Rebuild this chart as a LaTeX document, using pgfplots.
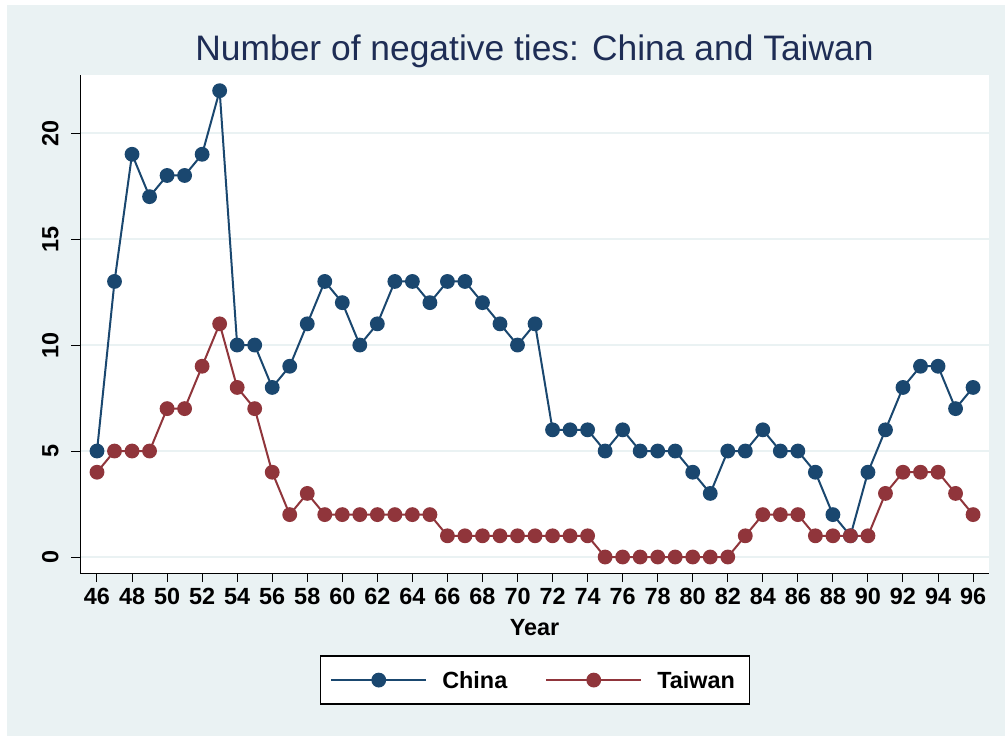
\documentclass[border=0pt]{standalone}
\usepackage{fontspec}
\setmainfont{Liberation Sans}
\usepackage{pgfplots}
\pgfplotsset{compat=1.18}
\definecolor{bgc}{HTML}{EAF2F3}
\definecolor{cnavy}{HTML}{1A476F}
\definecolor{tmaroon}{HTML}{90353B}
\definecolor{ttl}{HTML}{1E2D55}
\begin{document}
\begin{tikzpicture}[x=1pt,y=1pt]
\fill[white] (0,0) rectangle (502.5,368);
\fill[bgc] (3.5,0) rectangle (502.5,365.5);
\node[font=\fontsize{17.7}{20}\selectfont, text=ttl, anchor=base, inner sep=0pt] at (267.25,338) {Number of negative ties: China and Taiwan};
\begin{axis}[
  at={(40pt,81.5pt)}, anchor=south west,
  scale only axis, width=454.5pt, height=249pt,
  xmin=45.03, xmax=96.91, ymin=-0.755, ymax=22.74,
  axis lines*=left,
  axis line style={black, line width=0.5pt},
  axis background/.style={fill=white},
  xtick={46,48,...,96}, ytick={0,5,...,20},
  tick align=outside, major tick length=4.5pt,
  tick style={black, line width=0.5pt},
  ymajorgrids, grid style={bgc, line width=1pt},
  /pgf/number format/assume math mode=true,
  ticklabel style={font=\fontsize{11.7}{14}\selectfont\bfseries, inner sep=0pt},
  xticklabel style={anchor=north, yshift=-3pt},
  yticklabel style={rotate=90, anchor=south, yshift=6pt},
  xlabel={Year},
  xlabel style={font=\fontsize{11.7}{14}\selectfont\bfseries, at={(axis description cs:0.5,0)}, anchor=base, yshift=-31pt, inner sep=0pt},
  legend columns=2,
  legend style={at={(axis description cs:0.5006,-0.215)}, anchor=center,
    draw=black, line width=0.6pt, fill=white,
    inner xsep=0pt, inner ysep=7.8pt,
    font=\fontsize{11.7}{14}\selectfont\bfseries,
    nodes={inner sep=0pt, text height=8.4pt, text depth=0pt},
    column sep=0pt},
  legend image code/.code={%
    \path[draw=none, fill=none] (0pt,0pt) -- (61pt,0pt);
    \draw[mark repeat=2,mark phase=2,#1] plot coordinates {(5.5pt,0pt) (29.25pt,0pt) (53pt,0pt)};},
]
\addplot[cnavy, line width=1pt, mark=*, mark size=3.2pt, mark options={solid, fill=cnavy, draw=cnavy}] coordinates {
(46,5) (47,13) (48,19) (49,17) (50,18) (51,18) (52,19) (53,22) (54,10) (55,10)
(56,8) (57,9) (58,11) (59,13) (60,12) (61,10) (62,11) (63,13) (64,13) (65,12)
(66,13) (67,13) (68,12) (69,11) (70,10) (71,11) (72,6) (73,6) (74,6) (75,5)
(76,6) (77,5) (78,5) (79,5) (80,4) (81,3) (82,5) (83,5) (84,6) (85,5)
(86,5) (87,4) (88,2) (89,1) (90,4) (91,6) (92,8) (93,9) (94,9) (95,7) (96,8)};
\addlegendentry{China\hspace*{14pt}}
\addplot[tmaroon, line width=1pt, mark=*, mark size=3.2pt, mark options={solid, fill=tmaroon, draw=tmaroon}] coordinates {
(46,4) (47,5) (48,5) (49,5) (50,7) (51,7) (52,9) (53,11) (54,8) (55,7)
(56,4) (57,2) (58,3) (59,2) (60,2) (61,2) (62,2) (63,2) (64,2) (65,2)
(66,1) (67,1) (68,1) (69,1) (70,1) (71,1) (72,1) (73,1) (74,1) (75,0)
(76,0) (77,0) (78,0) (79,0) (80,0) (81,0) (82,0) (83,1) (84,2) (85,2)
(86,2) (87,1) (88,1) (89,1) (90,1) (91,3) (92,4) (93,4) (94,4) (95,3) (96,2)};
\addlegendentry{Taiwan\hspace*{7.5pt}}
\end{axis}
\end{tikzpicture}
\end{document}
